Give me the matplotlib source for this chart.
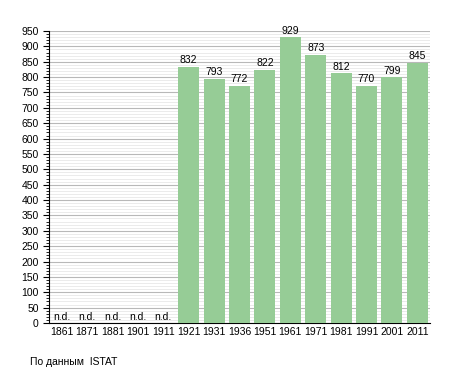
import matplotlib
matplotlib.use("Agg")
import matplotlib.pyplot as plt
import numpy as np
from matplotlib.ticker import MultipleLocator

years = ["1861", "1871", "1881", "1901", "1911", "1921", "1931", "1936",
         "1951", "1961", "1971", "1981", "1991", "2001", "2011"]
population = [None, None, None, None, None, 832, 793, 772,
              822, 929, 873, 812, 770, 799, 845]

plt.rcParams["font.family"] = ["Liberation Sans", "DejaVu Sans"]

fig = plt.figure(figsize=(4.55, 3.73), dpi=100)
ax = fig.add_axes([49 / 455, 50 / 373, 381 / 455, 292 / 373])

x = np.arange(len(years))
heights = [v if v is not None else 0 for v in population]
ax.bar(x, heights, width=0.82, color="#96cc96", zorder=3)

for xi, v in zip(x, population):
    if v is None:
        ax.text(xi, 2, "n.d.", ha="center", va="bottom", fontsize=7.5, zorder=4)
    else:
        ax.text(xi, v + 6, str(v), ha="center", va="bottom", fontsize=7.5, zorder=4)

ax.set_xlim(-0.5, len(years) - 0.5)
ax.set_ylim(0, 950)
ax.yaxis.set_major_locator(MultipleLocator(50))
ax.yaxis.set_minor_locator(MultipleLocator(10))
ax.grid(axis="y", which="major", color="#b8b8b8", linewidth=0.8, zorder=0)
ax.grid(axis="y", which="minor", color="#e8e8e8", linewidth=0.6, zorder=0)

ax.set_xticks(x)
ax.set_xticklabels(years, fontsize=7.5)
ax.tick_params(axis="y", labelsize=7.5, length=4, width=0.8)
ax.tick_params(axis="y", which="minor", length=2, width=0.6)
ax.tick_params(axis="x", length=0, pad=3)

for side in ["top", "right"]:
    ax.spines[side].set_visible(False)
ax.spines["left"].set_linewidth(0.8)
ax.spines["bottom"].set_linewidth(0.8)

fig.text(30 / 455, 1 - 362 / 373, "По данным  ISTAT", fontsize=7.5, va="center")

fig.savefig("out.png", dpi=100)
